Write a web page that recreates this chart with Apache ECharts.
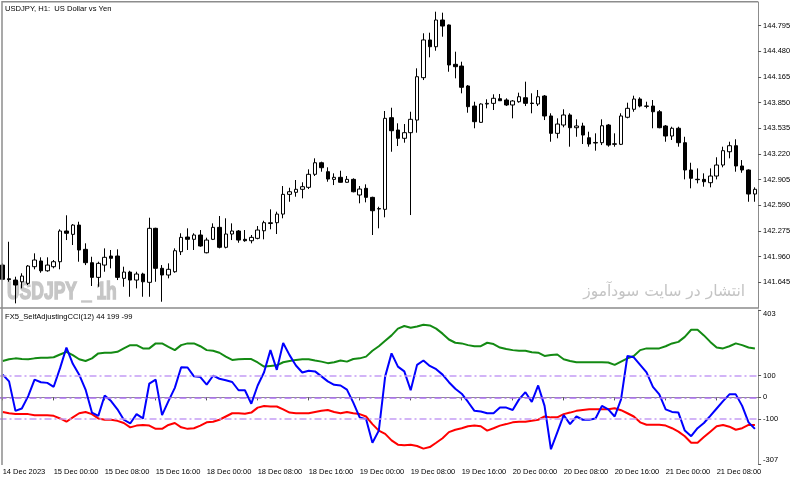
<!DOCTYPE html>
<html>
<head>
<meta charset="UTF-8">
<title>USDJPY H1 - Self Adjusting CCI</title>
<script src="https://cdn.jsdelivr.net/npm/echarts@6.0.0/dist/echarts.min.js"></script>
<style>
  html, body { margin: 0; padding: 0; background: #fff; }
  #chart { width: 800px; height: 481px; }
</style>
</head>
<body>
<div id="chart"></div>
<script>
// trading days shown (weekend skipped), first bar is 14 Dec 16:00
var days = ['14 Dec', '15 Dec', '18 Dec', '19 Dec', '20 Dec', '21 Dec'];

// price candles (H1)
var opens = [141.857,141.689,141.673,141.652,141.633,141.837,141.907,141.787,141.837,141.898,
  142.275,142.234,142.348,142.050,141.886,141.706,141.857,141.968,141.968,141.694,
  141.771,141.673,141.747,141.645,142.308,141.817,141.735,141.775,142.021,142.201,
  142.173,142.226,142.008,142.173,142.320,142.075,142.238,142.275,142.173,142.156,
  142.185,142.278,142.367,142.377,142.483,142.725,142.750,142.787,142.811,142.971,
  143.113,143.003,142.909,142.934,142.873,142.909,142.717,142.799,142.688,142.545,
  142.541,143.666,143.515,143.413,143.482,143.637,144.157,144.620,144.537,144.865,
  144.804,144.321,144.300,144.055,143.809,143.609,143.834,143.842,143.899,143.883,
  143.822,143.862,143.911,143.845,143.834,143.932,143.687,143.474,143.576,143.699,
  143.543,143.564,143.420,143.355,143.359,143.576,143.345,143.339,143.671,143.769,
  143.895,143.810,143.809,143.739,143.564,143.441,143.536,143.359,143.024,142.910,
  142.909,142.868,142.950,143.085,143.248,143.322,143.073,143.024,142.729];
var closes = [141.682,141.677,141.612,141.722,141.845,141.919,141.787,141.857,141.898,142.275,
  142.247,142.348,142.042,141.886,141.706,141.878,141.952,141.940,141.706,141.771,
  141.673,141.747,141.652,142.308,141.817,141.735,141.805,142.033,142.197,142.173,
  142.226,142.091,142.164,142.320,142.075,142.238,142.275,142.164,142.156,142.197,
  142.287,142.377,142.377,142.483,142.725,142.757,142.787,142.819,142.971,143.113,
  143.052,142.913,142.934,142.873,142.909,142.757,142.790,142.688,142.524,142.550,
  143.658,143.506,143.413,143.482,143.646,144.169,144.620,144.537,144.865,144.791,
  144.313,144.292,144.039,143.801,143.617,143.834,143.842,143.904,143.874,143.822,
  143.871,143.923,143.842,143.840,143.923,143.687,143.474,143.588,143.699,143.543,
  143.564,143.453,143.343,143.362,143.567,143.330,143.340,143.687,143.781,143.895,
  143.809,143.805,143.739,143.543,143.441,143.536,143.359,143.024,142.922,142.905,
  142.880,142.950,143.085,143.261,143.322,143.073,143.024,142.729,142.787];
var lows = [141.673,141.652,141.387,141.571,141.612,141.805,141.763,141.775,141.817,141.805,
  142.164,142.103,141.898,141.857,141.600,141.591,141.775,141.817,141.673,141.591,
  141.468,141.571,141.468,141.468,141.652,141.407,141.694,141.763,141.980,142.042,
  142.042,142.082,142.001,142.164,142.062,142.062,142.164,142.131,142.143,142.124,
  142.173,142.173,142.296,142.238,142.431,142.634,142.696,142.676,142.790,142.950,
  143.003,142.880,142.839,142.870,142.868,142.750,142.615,142.627,142.226,142.308,
  142.443,143.248,143.318,143.359,142.471,143.482,144.128,144.407,144.488,144.660,
  144.230,144.149,143.965,143.727,143.536,143.604,143.781,143.760,143.871,143.809,
  143.658,143.850,143.809,143.720,143.809,143.637,143.371,143.413,143.548,143.310,
  143.432,143.343,143.310,143.261,143.330,143.310,143.310,143.330,143.658,143.739,
  143.793,143.781,143.536,143.536,143.371,143.392,143.310,142.909,142.799,142.860,
  142.819,142.811,142.909,143.057,143.167,143.003,142.990,142.634,142.634];
var highs = [141.878,142.143,141.714,141.756,141.857,142.001,141.952,141.952,141.919,142.296,
  142.468,142.360,142.389,142.124,141.959,141.898,142.062,142.042,142.050,141.837,
  141.787,141.775,141.763,142.438,142.315,141.857,141.878,142.062,142.247,142.308,
  142.247,142.287,142.193,142.369,142.459,142.431,142.369,142.287,142.287,142.226,
  142.336,142.401,142.541,142.512,142.827,142.806,142.901,142.873,143.032,143.167,
  143.126,143.057,142.983,143.015,142.950,142.922,142.827,142.848,142.696,142.573,
  143.748,143.788,143.597,143.588,143.739,144.272,144.702,144.709,144.967,144.955,
  144.810,144.476,144.353,144.067,143.862,143.842,143.892,143.953,143.957,143.904,
  143.883,143.973,144.108,143.965,144.006,143.944,143.720,143.658,143.769,143.720,
  143.646,143.604,143.494,143.474,143.646,143.588,143.474,143.720,143.850,143.936,
  143.916,143.862,143.883,143.760,143.576,143.555,143.555,143.432,143.113,143.044,
  142.983,143.044,143.180,143.310,143.371,143.401,143.146,143.032,142.811];

// FX5_SelfAdjustingCCI buffers
var cci = [105,74,-62,-51,6,82,70,67,49,135,
  230,155,105,36,-70,-85,9,-17,-55,-103,
  -120,-77,-97,64,82,-82,-17,44,139,138,
  97,94,59,100,86,79,71,33,33,-29,
  55,116,218,127,251,195,147,115,123,120,
  97,74,58,55,36,-24,-92,-100,-209,-153,
  97,203,142,120,33,150,170,145,130,105,
  70,40,17,-21,-62,-65,-73,-73,-47,-47,
  -58,-9,24,-21,55,-39,-239,-161,-82,-123,
  -88,-103,-103,-97,-39,-55,-88,-9,191,185,
  150,115,49,14,-55,-67,-70,-153,-179,-142,
  -118,-85,-51,-17,14,14,-39,-115,-145];
var upperBand = [168,176,180,177,176,180,183,183,185,198,
  210,195,176,168,180,203,206,206,210,226,
  241,241,226,226,249,249,233,218,241,249,
  249,236,218,215,206,188,173,176,177,177,
  161,142,145,148,162,168,173,176,176,170,
  165,158,162,170,165,177,180,188,215,236,
  261,286,317,329,321,327,335,332,317,294,
  267,252,249,241,236,236,252,246,230,223,
  218,215,215,208,206,191,195,198,176,168,
  162,162,162,162,162,161,150,165,180,191,
  218,226,226,226,236,249,256,279,312,312,
  286,256,230,226,236,249,241,230,226];
var lowerBand = [-67,-73,-77,-77,-77,-82,-82,-82,-85,-97,
  -112,-92,-73,-67,-77,-97,-103,-103,-108,-118,
  -138,-130,-127,-130,-145,-145,-127,-118,-138,-145,
  -142,-130,-115,-112,-103,-88,-73,-73,-75,-70,
  -47,-40,-42,-42,-55,-70,-73,-73,-73,-67,
  -62,-58,-67,-73,-67,-73,-77,-88,-123,-153,
  -168,-198,-218,-221,-218,-224,-236,-229,-209,-188,
  -160,-149,-142,-133,-130,-133,-153,-142,-130,-123,
  -115,-112,-112,-108,-103,-88,-92,-92,-77,-70,
  -62,-58,-55,-55,-55,-55,-50,-59,-73,-88,
  -115,-126,-126,-126,-130,-142,-158,-179,-209,-209,
  -183,-158,-133,-127,-135,-149,-142,-127,-127];

// axis ticks
var priceTicks = [141.645, 141.960, 142.275, 142.590, 142.905, 143.220, 143.535, 143.850, 144.165, 144.480, 144.795];
var cciLevels = [-100, 0, 100];
var cciMax = 403, cciMin = -307;

// build hourly categories
var categories = [];
days.forEach(function (d, k) {
  var from = k === 0 ? 16 : 0;
  var to = k === days.length - 1 ? 14 : 23;
  for (var h = from; h <= to; h++) {
    categories.push(d + ' ' + (h < 10 ? '0' + h : h) + ':00');
  }
});
var candles = opens.map(function (o, i) { return [o, closes[i], lows[i], highs[i]]; });

var FONT = "'Liberation Sans', Arial, sans-serif";
var AXIS = '#8c8c8c';

var chart = echarts.init(document.getElementById('chart'));
chart.setOption({
  animation: false,
  backgroundColor: '#fff',
  grid: [
    { left: -0.5, width: 758.6, top: 2, height: 306, containLabel: false, outerBoundsMode: 'none' },
    { left: -0.5, width: 758.6, top: 310, height: 154, containLabel: false, outerBoundsMode: 'none' }
  ],
  xAxis: [
    {
      type: 'category', gridIndex: 0, data: categories, boundaryGap: true,
      axisLine: { show: true, lineStyle: { color: AXIS, width: 1.5 } },
      axisTick: { show: false }, axisLabel: { show: false }, splitLine: { show: false }
    },
    {
      type: 'category', gridIndex: 1, data: categories, boundaryGap: true,
      axisLine: { show: true, lineStyle: { color: AXIS, width: 1 } },
      axisTick: {
        show: true, alignWithLabel: true, length: 3,
        interval: function (i) { return i % 8 === 0; },
        lineStyle: { color: '#555' }
      },
      axisLabel: {
        show: true, align: 'left', margin: 4,
        interval: function (i) { return i % 8 === 0; },
        formatter: function (v, i) { return i === 0 ? '14 Dec 2023' : v; },
        color: '#000', fontSize: 7.5, fontFamily: FONT
      },
      splitLine: { show: false }
    }
  ],
  yAxis: [
    {
      type: 'value', gridIndex: 0, position: 'right', min: 141.330, max: 145.086, scale: true,
      axisLine: { show: true, lineStyle: { color: AXIS, width: 1 } },
      axisTick: { show: true, length: 3, customValues: priceTicks, lineStyle: { color: '#555' } },
      axisLabel: {
        show: true, margin: 5, customValues: priceTicks, color: '#000', fontSize: 7.5, fontFamily: FONT,
        formatter: function (v) { return v.toFixed(3); }
      },
      splitLine: { show: false }
    },
    {
      type: 'value', gridIndex: 1, position: 'right', min: cciMin, max: cciMax,
      axisLine: { show: true, lineStyle: { color: AXIS, width: 1 } },
      axisTick: { show: true, length: 3, customValues: cciLevels, lineStyle: { color: '#555' } },
      axisLabel: { show: true, margin: 5, customValues: cciLevels, color: '#000', fontSize: 7.5, fontFamily: FONT },
      splitLine: { show: false }
    },
    {
      type: 'value', gridIndex: 1, position: 'right', offset: 0, min: cciMin, max: cciMax,
      axisLine: { show: false },
      axisTick: { show: true, length: 3, customValues: [cciMax], lineStyle: { color: '#555' } },
      axisLabel: { show: true, margin: 5, customValues: [cciMax], verticalAlign: 'top', color: '#000', fontSize: 7.5, fontFamily: FONT },
      splitLine: { show: false }
    },
    {
      type: 'value', gridIndex: 1, position: 'right', offset: 0, min: cciMin, max: cciMax,
      axisLine: { show: false },
      axisTick: { show: true, length: 3, customValues: [cciMin], lineStyle: { color: '#555' } },
      axisLabel: { show: true, margin: 5, customValues: [cciMin], verticalAlign: 'bottom', color: '#000', fontSize: 7.5, fontFamily: FONT },
      splitLine: { show: false }
    }
  ],
  series: [
    {
      name: 'USDJPY', type: 'candlestick', xAxisIndex: 0, yAxisIndex: 0,
      data: candles, barWidth: 4,
      itemStyle: { color: '#fff', color0: '#000', borderColor: '#000', borderColor0: '#000', borderWidth: 1 }
    },
    {
      name: 'upper', type: 'line', xAxisIndex: 1, yAxisIndex: 1, data: upperBand,
      symbol: 'none', lineStyle: { color: '#138a13', width: 2 },
      markLine: {
        silent: true, symbol: 'none', label: { show: false },
        data: [
          { yAxis: 100, lineStyle: { color: '#c49cf5', width: 1.5, type: [7, 3, 2, 3] } },
          { yAxis: 0, lineStyle: { color: '#ad72f2', width: 1.5, type: [7, 3, 2, 3] } },
          { yAxis: -100, lineStyle: { color: '#c49cf5', width: 1.5, type: [7, 3, 2, 3] } }
        ]
      }
    },
    {
      name: 'lower', type: 'line', xAxisIndex: 1, yAxisIndex: 1, data: lowerBand,
      symbol: 'none', lineStyle: { color: '#ff0000', width: 2 }
    },
    {
      name: 'cci', type: 'line', xAxisIndex: 1, yAxisIndex: 1, data: cci,
      symbol: 'none', lineStyle: { color: '#0000ff', width: 2 }
    }
  ],
  graphic: [
    { type: 'line', silent: true, z: 100, shape: { x1: 2, y1: 1.75, x2: 758, y2: 1.75 }, style: { stroke: AXIS, lineWidth: 1.5 } },
    { type: 'line', silent: true, z: 100, shape: { x1: 2, y1: 1, x2: 2, y2: 465 }, style: { stroke: AXIS, lineWidth: 1.5 } },
    { type: 'text', silent: true, z: 100, x: 5, y: 9,
      style: { text: 'USDJPY, H1:  US Dollar vs Yen', fill: '#000', font: '7.6px ' + FONT, verticalAlign: 'middle' } },
    { type: 'text', silent: true, z: 100, x: 5, y: 317,
      style: { text: 'FX5_SelfAdjustingCCI(12) 44 199 -99', fill: '#000', font: '7.6px ' + FONT, verticalAlign: 'middle' } },
    { type: 'text', silent: true, z: 1, x: 7, y: 292.5, scaleX: 0.76,
      style: { text: 'USDJPY _ 1h', fill: '#c6c6c6', stroke: '#c6c6c6', lineWidth: 1.4, font: 'bold 23px ' + FONT, verticalAlign: 'middle' } },
    { type: 'text', silent: true, z: 1, x: 745, y: 292,
      style: { text: 'انتشار در سایت سودآموز', fill: '#c4c4c4', font: "15.5px 'DejaVu Sans'", align: 'right', verticalAlign: 'middle' } }
  ]
});
</script>
</body>
</html>
